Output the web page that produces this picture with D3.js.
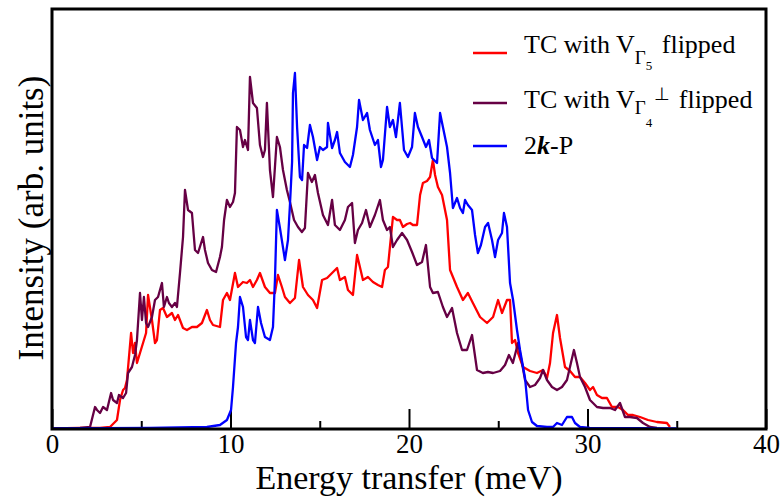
<!DOCTYPE html>
<html>
<head>
<meta charset="utf-8">
<script src="https://cdn.jsdelivr.net/npm/d3@7"></script>
<style>
  body { margin: 0; background: #fff; }
  svg { font-family: "Liberation Serif", "Times New Roman", serif; }
  .line { fill: none; stroke-width: 2.3; stroke-linejoin: round; }
</style>
</head>
<body>
<div id="graph"></div>
<script>
// energy transfer (meV), intensity (arb. units)
const tcG5 = [[0,0.5],[1.57,1],[2.69,1],[3.25,2],[3.64,9],[3.81,29],[3.98,39],[4.09,41],[4.20,49],[4.43,96],[4.54,76],[4.65,86],[4.76,66],[4.93,76],[5.10,86],[5.27,96],[5.38,134],[5.60,109],[5.77,86],[5.88,89],[6.05,119],[6.22,121],[6.44,112],[6.72,116],[6.89,109],[7.06,114],[7.34,101],[7.56,99],[7.84,102],[8.12,102],[8.40,106],[8.68,119],[8.85,109],[9.02,104],[9.41,102],[9.58,129],[9.80,136],[9.97,129],[10.25,156],[10.42,142],[10.70,147],[10.92,146],[11.09,149],[11.26,142],[11.48,149],[11.65,156],[11.93,142],[12.21,136],[12.49,136],[12.66,154],[12.88,142],[13.05,132],[13.33,126],[13.61,131],[13.84,169],[14.06,142],[14.34,134],[14.62,129],[14.85,121],[15.13,149],[15.41,151],[15.69,156],[15.97,161],[16.13,149],[16.41,152],[16.58,139],[16.86,134],[17.09,174],[17.25,162],[17.42,149],[17.70,152],[17.98,147],[18.26,144],[18.49,142],[18.65,159],[18.82,162],[19.10,212],[19.33,209],[19.49,209],[19.66,202],[19.89,205],[20.06,206],[20.22,204],[20.45,204],[20.62,234],[20.78,246],[21.01,248],[21.18,252],[21.34,269],[21.46,254],[21.62,242],[21.85,234],[22.13,209],[22.30,159],[22.69,142],[23.02,129],[23.30,136],[23.58,126],[23.98,112],[24.37,106],[24.71,112],[24.99,129],[25.21,116],[25.49,129],[25.66,129],[25.77,86],[25.94,89],[26.11,76],[26.39,62],[26.78,58],[27.17,56],[27.51,59],[27.73,51],[27.90,66],[28.07,96],[28.29,114],[28.46,91],[28.74,62],[29.02,58],[29.30,52],[29.58,52],[29.86,46],[30.14,39],[30.31,42],[30.53,34],[30.81,31],[31.09,31],[31.37,22],[31.71,22],[31.99,19],[32.27,14],[32.55,14],[32.94,12],[33.39,9],[33.89,7],[34.45,6],[34.62,2]];

const tcG4 = [[0,0.5],[1.57,1],[2.13,2],[2.41,22],[2.52,19],[2.69,16],[2.86,22],[3.08,19],[3.31,36],[3.42,29],[3.64,26],[3.75,34],[3.98,31],[4.15,36],[4.26,56],[4.48,62],[4.65,74],[4.76,89],[4.93,136],[5.04,109],[5.15,132],[5.27,106],[5.38,102],[5.60,112],[5.77,129],[5.94,132],[6.16,146],[6.27,122],[6.44,132],[6.55,126],[6.72,122],[6.89,126],[7.00,122],[7.17,156],[7.34,192],[7.45,239],[7.62,219],[7.84,216],[8.01,179],[8.18,176],[8.46,192],[8.57,179],[8.74,166],[8.96,159],[9.19,157],[9.41,172],[9.52,182],[9.64,209],[9.80,229],[9.97,222],[10.14,227],[10.25,236],[10.36,302],[10.53,299],[10.70,282],[10.81,289],[10.98,279],[11.09,352],[11.26,326],[11.48,321],[11.65,284],[11.82,272],[11.93,279],[12.04,326],[12.21,259],[12.38,232],[12.60,292],[12.77,282],[12.94,259],[13.16,239],[13.33,227],[13.56,209],[13.78,202],[14.00,197],[14.17,201],[14.34,256],[14.56,247],[14.73,254],[14.90,236],[15.18,214],[15.46,204],[15.69,229],[15.85,204],[16.13,199],[16.41,209],[16.58,222],[16.81,226],[16.97,186],[17.14,199],[17.37,206],[17.59,219],[17.81,202],[18.09,214],[18.37,229],[18.54,209],[18.77,199],[18.93,202],[19.10,182],[19.33,189],[19.61,196],[19.89,189],[20.17,177],[20.45,164],[20.73,167],[20.95,184],[21.18,142],[21.34,136],[21.62,137],[21.90,122],[22.13,112],[22.41,121],[22.69,96],[22.97,79],[23.25,79],[23.53,94],[23.81,59],[24.14,56],[24.42,57],[24.71,56],[25.10,58],[25.38,64],[25.60,74],[25.82,66],[26.11,86],[26.33,66],[26.50,49],[26.78,42],[27.06,44],[27.34,51],[27.51,59],[27.73,49],[28.01,42],[28.29,39],[28.57,42],[28.85,49],[29.07,66],[29.24,79],[29.41,66],[29.58,52],[29.86,42],[30.14,29],[30.53,22],[30.87,21],[31.26,21],[31.54,19],[31.82,26],[32.10,12],[32.38,12],[32.77,11],[33.11,6],[33.50,2],[33.89,1]];

const twoKP = [[0,0.5],[5.49,1],[8.68,2],[9.41,4],[9.80,9],[10.03,19],[10.14,42],[10.31,86],[10.42,102],[10.53,132],[10.70,122],[10.87,92],[10.98,89],[11.09,109],[11.26,89],[11.37,86],[11.54,122],[11.71,106],[11.93,92],[12.21,89],[12.38,102],[12.49,149],[12.60,219],[12.77,201],[13.05,169],[13.22,189],[13.33,224],[13.45,267],[13.50,336],[13.61,356],[13.73,302],[13.89,252],[14.01,249],[14.12,284],[14.29,281],[14.45,304],[14.62,292],[14.85,269],[15.01,282],[15.18,279],[15.41,282],[15.46,306],[15.69,281],[15.85,289],[15.97,297],[16.13,276],[16.41,267],[16.69,262],[16.86,274],[17.09,302],[17.20,329],[17.42,309],[17.65,316],[17.81,299],[18.09,284],[18.26,289],[18.43,262],[18.54,269],[18.77,322],[18.93,302],[19.10,309],[19.27,292],[19.49,326],[19.72,279],[19.94,272],[20.17,282],[20.33,316],[20.50,302],[20.73,292],[20.95,282],[21.12,289],[21.29,271],[21.57,266],[21.74,316],[21.90,302],[22.13,282],[22.30,256],[22.46,221],[22.69,231],[22.86,221],[23.02,216],[23.14,229],[23.30,224],[23.53,219],[23.70,194],[23.86,176],[24.03,184],[24.26,202],[24.43,206],[24.65,189],[24.82,172],[24.99,189],[25.21,196],[25.32,216],[25.49,202],[25.66,146],[25.83,129],[26.05,99],[26.22,79],[26.50,51],[26.67,19],[26.89,7],[27.17,3],[27.73,2],[28.07,2],[28.29,6],[28.57,4],[28.85,12],[29.13,12],[29.30,6],[29.58,2],[30.14,1],[35,0.5]];

const xTicks = [0, 10, 20, 30, 40];
const xMinor = [5, 15, 25, 35];

const W = 782, H = 497;
const margin = {top: 9, right: 16, bottom: 68, left: 52},
    width = W - margin.left - margin.right,
    height = H - margin.top - margin.bottom;

const svg = d3.select("#graph").append("svg")
    .attr("width", W)
    .attr("height", H);

const g = svg.append("g")
    .attr("transform", "translate(" + margin.left + "," + margin.top + ")");

const x = d3.scaleLinear().domain([0, 40]).range([0, width]);
const y = d3.scaleLinear().domain([0, 420]).range([height, 0]);

const line = d3.line()
    .x(function(d) { return x(d[0]) })
    .y(function(d) { return y(d[1]) });

// minor ticks
g.append("g")
    .attr("transform", "translate(0," + height + ")")
    .call(d3.axisBottom(x).tickValues(xMinor).tickSize(-8).tickFormat(""))
    .call(s => s.select(".domain").remove())
    .selectAll("line").attr("stroke-width", 2);

// major ticks + labels
g.append("g")
    .attr("transform", "translate(0," + height + ")")
    .attr("font-family", "Liberation Serif")
    .call(d3.axisBottom(x).tickValues(xTicks).tickSize(-20).tickPadding(5))
    .call(s => s.select(".domain").remove())
    .call(s => s.selectAll("line").attr("stroke-width", 2))
    .selectAll("text")
    .attr("font-family", "Liberation Serif")
    .attr("font-size", 27)
    .attr("fill", "#000");

const series = [
    {data: tcG5, color: "#ff0000"},
    {data: tcG4, color: "#660044"},
    {data: twoKP, color: "#0000ff"}
];

series.forEach(function(s) {
    g.append("path")
        .datum(s.data)
        .attr("class", "line")
        .attr("stroke", s.color)
        .attr("d", line);
});

// frame
g.append("rect")
    .attr("x", 0).attr("y", 0)
    .attr("width", width).attr("height", height)
    .attr("fill", "none")
    .attr("stroke", "#000")
    .attr("stroke-width", 3);

// axis titles
svg.append("text")
    .attr("x", margin.left + x(20))
    .attr("y", 489)
    .attr("text-anchor", "middle")
    .attr("font-size", 34)
    .text("Energy transfer (meV)");

svg.append("text")
    .attr("transform", "translate(43,218) rotate(-90)")
    .attr("text-anchor", "middle")
    .attr("font-size", 35)
    .text("Intensity (arb. units)");

// legend
const leg = svg.append("g");
const legY = [53, 103, 146];
series.forEach(function(s, i) {
    leg.append("line")
        .attr("x1", 473).attr("x2", 507)
        .attr("y1", legY[i]).attr("y2", legY[i])
        .attr("stroke", s.color).attr("stroke-width", 2.3);
});

var t1 = leg.append("text").attr("x", 524).attr("y", 53).attr("font-size", 26);
t1.append("tspan").text("TC with V");
t1.append("tspan").attr("font-size", 19).attr("dy", 11).text("Γ");
t1.append("tspan").attr("font-size", 13).attr("dy", 6).text("5");
t1.append("tspan").attr("dy", -17).attr("dx", 3).text(" flipped");

var t2 = leg.append("text").attr("x", 524).attr("y", 108).attr("font-size", 26);
t2.append("tspan").text("TC with V");
t2.append("tspan").attr("font-size", 19).attr("dy", 6).text("Γ");
t2.append("tspan").attr("font-size", 13).attr("dy", 13).text("4");
t2.append("tspan").attr("font-size", 18).attr("dy", -27).attr("dx", 2).text("⊥");
t2.append("tspan").attr("dy", 8).attr("dx", 2).text(" flipped");

var t3 = leg.append("text").attr("x", 524).attr("y", 154).attr("font-size", 26);
t3.append("tspan").text("2");
t3.append("tspan").attr("font-weight", "bold").attr("font-style", "italic").text("k");
t3.append("tspan").text("-P");
</script>
</body>
</html>
